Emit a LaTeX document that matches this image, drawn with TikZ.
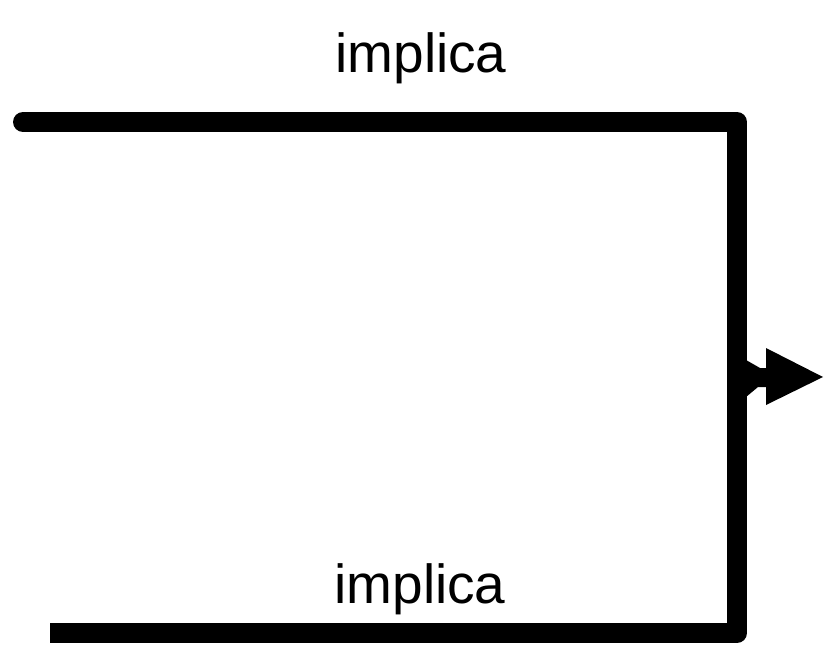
\documentclass[tikz,border=0pt]{standalone}
\usepackage{fontspec}
\setmainfont{Liberation Sans}
\usetikzlibrary{calc}
\begin{document}
\begin{tikzpicture}[x=1bp,y=-1bp,
  bar/.style={line width=20bp, line join=round, draw=black},
  lbl/.style={anchor=base, inner sep=0pt, font=\fontsize{55bp}{66bp}\selectfont}]
\useasboundingbox (0,0) rectangle (824,653);
\coordinate (tl) at (23,122);
\coordinate (tr) at (737,122);
\coordinate (br) at (737,633);
\coordinate (bl) at (50,633);
\coordinate (am) at (737,377);
\coordinate (ab) at (766,377);
\coordinate (at) at (823,377);
\node[lbl] (t1) at (421,73) {implica};
\node[lbl] (t2) at (420,603) {implica};
\draw[bar, line cap=butt] (tl) -- (tr) -- (br) -- (bl);
\draw[bar, line cap=round] (tl) -- ++(20,0);
\fill ($(am)+(0,-19)$) -- ($(am)+(9,-17)$) -- ($(am)+(23,-9)$) -- ($(ab)+(1,-9)$) -- ($(ab)+(1,10)$) -- ($(am)+(21,10)$) -- ($(am)+(9,20)$) -- ($(am)+(0,22)$) -- cycle;
\fill ($(ab)+(0,-29)$) -- (at) -- ($(ab)+(0,28)$) -- cycle;
\end{tikzpicture}
\end{document}
